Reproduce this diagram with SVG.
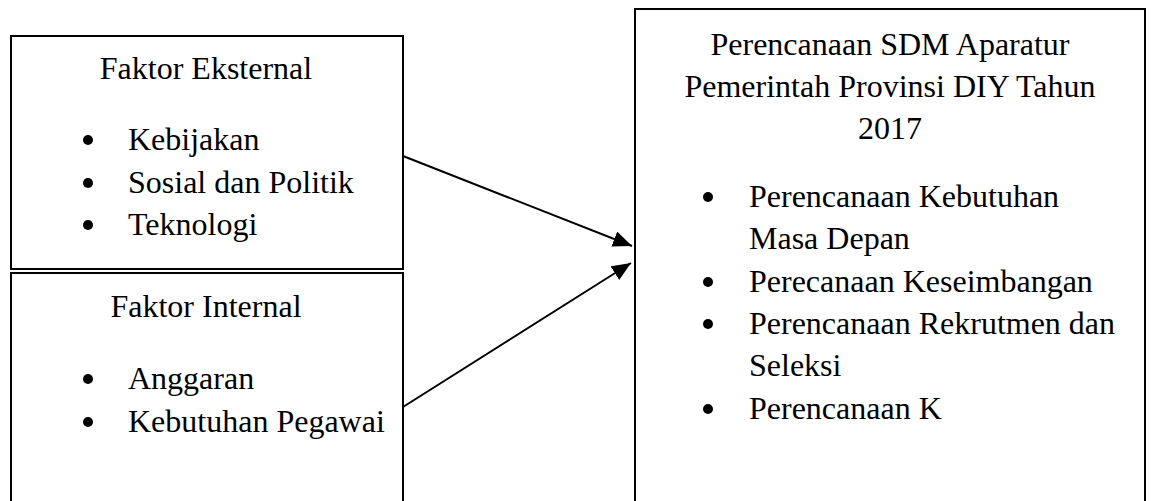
<svg xmlns="http://www.w3.org/2000/svg" width="1163" height="501" viewBox="0 0 1163 501">
<style>
.box{fill:#fff;stroke:#000;stroke-width:2}
.t{font-family:"Liberation Serif","Times New Roman",serif;font-size:32px;fill:#000}
.c{text-anchor:middle}
.conn{stroke:#000;stroke-width:2;fill:none}
</style>
<defs>
<marker id="ah" markerWidth="20" markerHeight="16" refX="19" refY="8" orient="auto" markerUnits="userSpaceOnUse">
<path d="M0,0 L19,8 L0,16 Z" fill="#000"/>
</marker>
</defs>
<rect width="1163" height="501" fill="#fff"/>
<g id="eksternal">
<rect class="box" x="11" y="36" width="392" height="233"/>
<text class="t c" x="206" y="79">Faktor Eksternal</text>
<circle cx="88" cy="140" r="5"/>
<text class="t" x="128" y="150">Kebijakan</text>
<circle cx="88" cy="183" r="5"/>
<text class="t" x="128" y="193">Sosial dan Politik</text>
<circle cx="88" cy="225" r="5"/>
<text class="t" x="128" y="235">Teknologi</text>
</g>
<g id="internal">
<rect class="box" x="11" y="273" width="392" height="240"/>
<text class="t c" x="206" y="317">Faktor Internal</text>
<circle cx="88" cy="379" r="5"/>
<text class="t" x="128" y="389">Anggaran</text>
<circle cx="88" cy="422" r="5"/>
<text class="t" x="128" y="432">Kebutuhan Pegawai</text>
</g>
<g id="perencanaan">
<rect class="box" x="635" y="9" width="510" height="510"/>
<text class="t c" x="890" y="55">Perencanaan SDM Aparatur</text>
<text class="t c" x="890" y="97">Pemerintah Provinsi DIY Tahun</text>
<text class="t c" x="890" y="139">2017</text>
<circle cx="708" cy="197" r="5"/>
<text class="t" x="749" y="207">Perencanaan Kebutuhan</text>
<text class="t" x="749" y="249">Masa Depan</text>
<circle cx="708" cy="282" r="5"/>
<text class="t" x="749" y="292">Perecanaan Keseimbangan</text>
<circle cx="708" cy="324" r="5"/>
<text class="t" x="749" y="334">Perencanaan Rekrutmen dan</text>
<text class="t" x="749" y="376">Seleksi</text>
<circle cx="708" cy="409" r="5"/>
<text class="t" x="749" y="419">Perencanaan K</text>
</g>
<g id="connectors">
<line class="conn" x1="403" y1="156" x2="632" y2="246" marker-end="url(#ah)"/>
<line class="conn" x1="403" y1="407" x2="631" y2="263" marker-end="url(#ah)"/>
</g>
</svg>
